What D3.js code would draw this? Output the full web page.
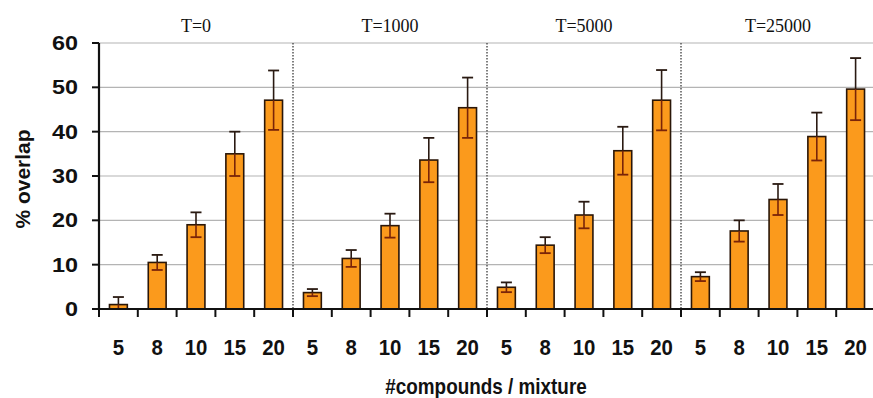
<!DOCTYPE html>
<html>
<head>
<meta charset="utf-8">
<script src="https://cdn.jsdelivr.net/npm/d3@7/dist/d3.min.js"></script>
<style>
  body { margin: 0; background: #fff; }
  svg { display: block; }
  .tick-label { font-family: "Liberation Sans", Arial, sans-serif; font-weight: bold; fill: #111; }
  .group-title { font-family: "Liberation Serif", "Times New Roman", serif; font-size: 18px; fill: #111; }
  .axis-title { font-family: "Liberation Sans", Arial, sans-serif; font-weight: bold; fill: #111; }
</style>
</head>
<body>
<div id="chart"></div>
<script>
// --- data ---
const groups = ["T=0", "T=1000", "T=5000", "T=25000"];
const sizes = ["5", "8", "10", "15", "20"];
const means = [
  [1.0, 10.5, 19.0, 35.0, 47.1],
  [3.7, 11.4, 18.8, 33.6, 45.4],
  [4.9, 14.4, 21.2, 35.7, 47.1],
  [7.3, 17.6, 24.7, 38.9, 49.6]
];
const errs = [
  [1.7, 1.7, 2.8, 5.0, 6.7],
  [0.8, 1.9, 2.7, 5.0, 6.8],
  [1.1, 1.8, 3.0, 5.4, 6.8],
  [1.0, 2.4, 3.5, 5.4, 7.0]
];
const yTicks = [0, 10, 20, 30, 40, 50, 60];

// --- layout ---
const width = 873, height = 398;
const margin = { left: 99, right: -2, top: 43, bottom: 89 };
const plotW = width - margin.left - margin.right;
const plotH = height - margin.top - margin.bottom;

// one row per bar
const rows = [];
groups.forEach((g, gi) => {
  sizes.forEach((s, si) => {
    rows.push({ key: gi + "-" + si, group: g, size: s, value: means[gi][si], err: errs[gi][si] });
  });
});

const x = d3.scaleBand()
  .domain(rows.map(d => d.key))
  .range([0, plotW])
  .paddingInner(0.54)
  .paddingOuter(0.27);

const y = d3.scaleLinear().domain([0, 60]).range([plotH, 0]);

const svg = d3.select("#chart").append("svg")
  .attr("width", width)
  .attr("height", height);

const g = svg.append("g").attr("transform", `translate(${margin.left},${margin.top})`);

const step = plotW / rows.length;
const groupW = step * sizes.length;

// gridlines
g.append("g")
  .selectAll("line")
  .data(yTicks.filter(t => t > 0))
  .enter().append("line")
  .attr("x1", 0).attr("x2", plotW + 5)
  .attr("y1", d => y(d)).attr("y2", d => y(d))
  .attr("stroke", "#b4b4b4")
  .attr("stroke-width", 1.2);

// dotted dividers between groups
g.append("g")
  .selectAll("line")
  .data(d3.range(1, groups.length))
  .enter().append("line")
  .attr("x1", d => d * groupW).attr("x2", d => d * groupW)
  .attr("y1", 0).attr("y2", plotH)
  .attr("stroke", "#555")
  .attr("stroke-width", 1.5)
  .attr("stroke-dasharray", "1.5,1.5");

// bars
g.append("g")
  .selectAll("rect")
  .data(rows)
  .enter().append("rect")
  .attr("x", d => x(d.key))
  .attr("width", x.bandwidth())
  .attr("y", d => y(d.value))
  .attr("height", d => plotH - y(d.value))
  .attr("fill", "#fb9a1c")
  .attr("stroke", "#2a1608")
  .attr("stroke-width", 1.6);

// error bars
const eb = g.append("g").selectAll("g")
  .data(rows)
  .enter().append("g")
  .attr("transform", d => `translate(${x(d.key) + x.bandwidth() / 2},0)`);
const cap = 5.5;
// upper part (above bar)
eb.append("line")
  .attr("y1", d => y(d.value)).attr("y2", d => y(d.value + d.err))
  .attr("stroke", "#2a1a12").attr("stroke-width", 1.6);
eb.append("line")
  .attr("x1", -cap).attr("x2", cap)
  .attr("y1", d => y(d.value + d.err)).attr("y2", d => y(d.value + d.err))
  .attr("stroke", "#2a1a12").attr("stroke-width", 1.8);
// lower part (inside bar)
eb.append("line")
  .attr("y1", d => y(d.value)).attr("y2", d => Math.min(plotH, y(d.value - d.err)))
  .attr("stroke", "#7a2408").attr("stroke-width", 1.6);
eb.filter(d => d.value - d.err > 0).append("line")
  .attr("x1", -cap).attr("x2", cap)
  .attr("y1", d => y(d.value - d.err)).attr("y2", d => y(d.value - d.err))
  .attr("stroke", "#7a2408").attr("stroke-width", 1.8);

// y axis
g.append("line")
  .attr("x1", 0).attr("x2", 0).attr("y1", 0).attr("y2", plotH)
  .attr("stroke", "#111").attr("stroke-width", 2.2);
g.append("g").selectAll("line")
  .data(yTicks)
  .enter().append("line")
  .attr("x1", -7).attr("x2", 0)
  .attr("y1", d => y(d)).attr("y2", d => y(d))
  .attr("stroke", "#111").attr("stroke-width", 2);
// the source font is drawn a bit wide, hence the scaleX
g.append("g").selectAll("text")
  .data(yTicks)
  .enter().append("text")
  .attr("class", "tick-label")
  .style("font-size", "19.5px")
  .attr("transform", d => `translate(-21,${y(d)}) scale(1.2,1)`)
  .attr("dy", "0.36em")
  .attr("text-anchor", "end")
  .text(d => d);

// x axis
g.append("line")
  .attr("x1", 0).attr("x2", plotW + 5).attr("y1", plotH).attr("y2", plotH)
  .attr("stroke", "#111").attr("stroke-width", 2.2);
g.append("g").selectAll("line")
  .data(d3.range(rows.length + 1))
  .enter().append("line")
  .attr("x1", d => d * step).attr("x2", d => d * step)
  .attr("y1", plotH).attr("y2", plotH + 8)
  .attr("stroke", "#111").attr("stroke-width", 2);
g.append("g").selectAll("text")
  .data(rows)
  .enter().append("text")
  .attr("class", "tick-label")
  .style("font-size", "21.5px")
  .attr("transform", d => `translate(${x(d.key) + x.bandwidth() / 2},${plotH + 46}) scale(0.95,1)`)
  .attr("text-anchor", "middle")
  .text(d => d.size);

// group titles
g.append("g").selectAll("text")
  .data(groups)
  .enter().append("text")
  .attr("class", "group-title")
  .attr("x", (d, i) => (i + 0.5) * groupW)
  .attr("y", -11)
  .attr("text-anchor", "middle")
  .text(d => d);

// axis titles
svg.append("text")
  .attr("class", "axis-title")
  .style("font-size", "21px")
  .attr("transform", `translate(30,179) rotate(-90)`)
  .attr("text-anchor", "middle")
  .text("% overlap");

svg.append("text")
  .attr("class", "axis-title")
  .style("font-size", "22.5px")
  .attr("transform", `translate(${margin.left + plotW / 2 - 1},394) scale(0.84,1)`)
  .attr("text-anchor", "middle")
  .text("#compounds / mixture");
</script>
</body>
</html>
